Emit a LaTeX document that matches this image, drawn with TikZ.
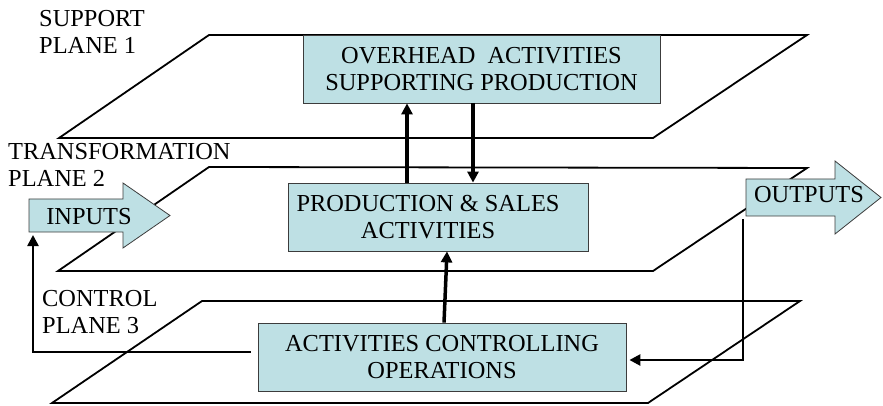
\documentclass[tikz,border=0pt]{standalone}
\usepackage{fontspec}
\setmainfont{Liberation Serif}
\usetikzlibrary{arrows.meta}
\definecolor{boxfill}{RGB}{190,224,228}
\definecolor{boxline}{RGB}{60,60,60}
\begin{document}
\begin{tikzpicture}[x=1pt,y=-1pt,
  font=\fontsize{24.4}{27}\selectfont,
  plane/.style={line width=1.8pt, line join=miter},
  box/.style={draw=boxline, line width=0.8pt, fill=boxfill, inner sep=0pt, align=center},
  blockarrow/.style={draw=boxline, line width=0.8pt, fill=boxfill},
  flow/.style={line width=3.5pt, -{Triangle[length=11pt,width=11pt]}},
  feed/.style={line width=2.5pt, -{Triangle[length=11pt,width=11pt]}},
  lbl/.style={anchor=north west, inner sep=0pt, align=left}]
\useasboundingbox (0,0) rectangle (883,406);

% planes
\draw[plane] (209,35) -- (807,35) -- (653,138) -- (59,138) -- cycle;
\draw[plane] (209,167) -- (807,168) -- (653,271) -- (58,271) -- cycle;
\draw[plane] (202,301) -- (800,301) -- (648,403) -- (52,403) -- cycle;

% plane labels
\node[lbl] (lsup) at (39,10.5) {SUPPORT\\PLANE 1};
\node[lbl] (ltra) at (8,143.5) {TRANSFORMATION\\PLANE 2};
\node[lbl] (lctl) at (42,290.5) {CONTROL\\PLANE 3};

% boxes
\node[box, minimum width=357pt, minimum height=68pt] (ovh) at (481.5,69)
  {OVERHEAD\ \ ACTIVITIES\\SUPPORTING PRODUCTION};
\node[box, minimum width=300pt, minimum height=68pt] (prod) at (438,217)
  {PRODUCTION \& SALES\hspace*{20pt}\\ACTIVITIES\hspace*{20pt}};
\node[box, minimum width=368pt, minimum height=68pt] (ctrl) at (442,357)
  {ACTIVITIES CONTROLLING\\OPERATIONS};

% block arrows
\draw[blockarrow] (29,199) -- (123,199) -- (123,183) -- (170,215.5) -- (123,248) -- (123,232) -- (29,232) -- cycle;
\node[anchor=base, inner sep=0pt] (inputs) at (89,225) {INPUTS};
\draw[blockarrow] (746,179) -- (835,179) -- (835,161) -- (881,197.5) -- (835,234) -- (835,216) -- (746,216) -- cycle;
\node[anchor=base, inner sep=0pt] (outputs) at (809,203) {OUTPUTS};

\coordinate (inpB) at (33,235);
\coordinate (outB) at (743,219);

% connectors
\draw[flow] ([xshift=2pt]ctrl.north) -- ([xshift=9pt]prod.south);
\draw[flow] ([xshift=-31pt]prod.north) -- ([xshift=-31pt]prod.north |- ovh.south);
\draw[flow] ([xshift=-8.5pt]ovh.south) -- ([xshift=-8.5pt]ovh.south |- prod.north);
\draw[feed, line join=miter] ([shift={(-7pt,5pt)}]ctrl.west) -| (inpB);
\draw[feed, line join=miter] (outB) |- ([shift={(3pt,-3pt)}]ctrl.east);
\end{tikzpicture}
\end{document}
